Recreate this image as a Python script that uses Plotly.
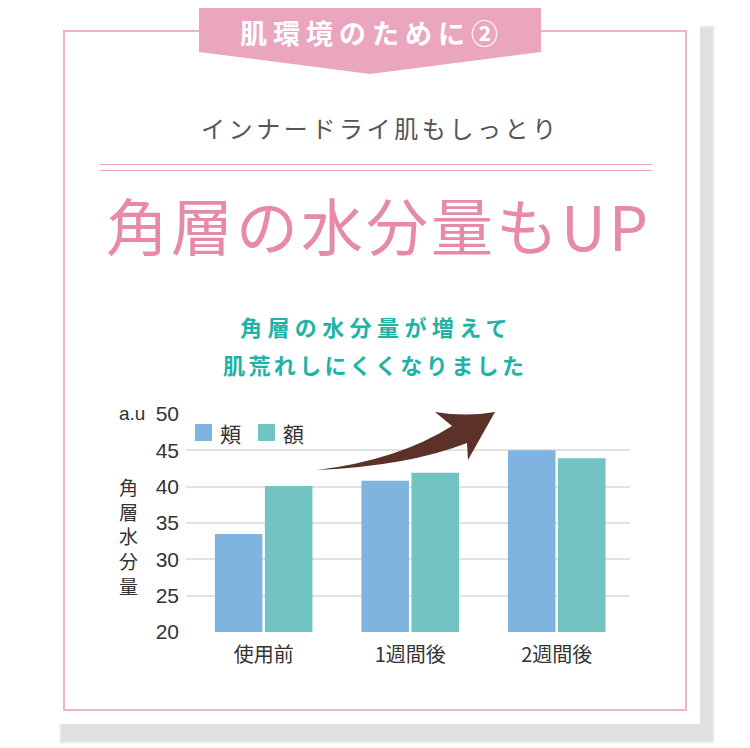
import plotly.graph_objects as go

W, H = 750, 748
OFF = 8  # page margin around the plot div

categories = ['使用前', '1週間後', '2週間後']
series_names = ['頬', '額']
cheek = [33.5, 40.8, 45.0]
forehead = [40.1, 41.9, 43.9]
y_ticks = [20, 25, 30, 35, 40, 45, 50]

blue = '#7fb4e1'
teal = '#71c4c1'
pink = '#eba6bf'
jp = 'Noto Sans CJK JP'


def px(x):
    return (x - OFF) / W


def py(y):
    return 1 - (y - OFF) / H


def pt(x, y):
    return f'{px(x):.5f},{py(y):.5f}'


def rect(x0, y0, x1, y1, **kw):
    return dict(type='rect', xref='paper', yref='paper',
                x0=px(x0), x1=px(x1), y0=py(y1), y1=py(y0), **kw)


def spaced(s, sp):
    return f'<span style="letter-spacing:{sp}px">{s}</span>'


fig = go.Figure()
fig.add_trace(go.Bar(x=categories, y=cheek, name=series_names[0],
                     marker=dict(color=blue, line_width=0), showlegend=False))
fig.add_trace(go.Bar(x=categories, y=forehead, name=series_names[1],
                     marker=dict(color=teal, line_width=0), showlegend=False))

shapes = []
# card shadow (soft)
for i, op in enumerate([0.25, 0.45, 0.7, 1.0]):
    d = 3 - i
    shapes.append(rect(62 - d, 28 - d, 712 + d, 741 + d,
                       fillcolor='#e0e0e0', opacity=op, line_width=0, layer='below'))
shapes.append(rect(30, -10, 700, 724, fillcolor='white', line_width=0, layer='below'))
# pink frame
shapes.append(rect(64, 31, 686, 710, fillcolor='rgba(0,0,0,0)',
                   line=dict(color='#efb3c9', width=2), layer='below'))
# banner
shapes.append(dict(type='path', xref='paper', yref='paper', layer='below',
                   path=f'M{pt(199,-10)} L{pt(541,-10)} L{pt(541,52)} L{pt(370,74)} L{pt(199,52)} Z',
                   fillcolor=pink, line_width=0))
# double rule
for yy in (164.5, 170.5):
    shapes.append(dict(type='line', xref='paper', yref='paper', layer='below',
                       x0=px(100), x1=px(652), y0=py(yy), y1=py(yy),
                       line=dict(color='#eea3bf', width=1.2)))
# legend squares
shapes.append(rect(195, 424, 212, 441, fillcolor=blue, line_width=0))
shapes.append(rect(258, 424, 275, 441, fillcolor=teal, line_width=0))
# arrow
shapes.append(dict(type='path', xref='paper', yref='paper', layer='above',
                   path=(f'M{pt(317,470)} Q{pt(398,460)} {pt(452,426)} L{pt(435,412)} '
                         f'Q{pt(465,417)} {pt(495,412)} L{pt(468,460)} L{pt(467,443)} '
                         f'Q{pt(408,466)} {pt(317,470)} Z'),
                   fillcolor='#5b3128', line_width=0))

ann = []
ann.append(dict(x=px(372), y=py(32), text=spaced('<b>肌環境のために②</b>', 6),
                font=dict(family=jp, size=27, color='white')))
ann.append(dict(x=px(380), y=py(128), text=spaced('インナードライ肌もしっとり', 3.6),
                font=dict(family=jp, size=24, color='#555555')))
ann.append(dict(x=px(378), y=py(224), text=spaced('角層の水分量もUP', 3),
                font=dict(family=jp, size=62, color='#e68aa6')))
ann.append(dict(x=px(376), y=py(326), text=spaced('<b>角層の水分量が増えて</b>', 5.4),
                font=dict(family=jp, size=22, color='#1fb3a8')))
ann.append(dict(x=px(375), y=py(364), text=spaced('<b>肌荒れしにくくなりました</b>', 3.4),
                font=dict(family=jp, size=22, color='#1fb3a8')))
ann.append(dict(x=px(147), y=py(414), text='a.u', xanchor='right',
                font=dict(family='Liberation Sans', size=19, color='#333333')))
ann.append(dict(x=px(140), y=py(536), text='<br>'.join('角層水分量'), xanchor='right',
                font=dict(family=jp, size=19, color='#333333')))
ann.append(dict(x=px(218), y=py(433), text=series_names[0], xanchor='left',
                font=dict(family=jp, size=21, color='#333333')))
ann.append(dict(x=px(281), y=py(433), text=series_names[1], xanchor='left',
                font=dict(family=jp, size=21, color='#333333')))
for a in ann:
    a.update(xref='paper', yref='paper', showarrow=False, yanchor='middle')

fig.update_layout(
    width=W, height=H,
    margin=dict(l=0, r=0, t=0, b=0, pad=0, autoexpand=False),
    paper_bgcolor='white', plot_bgcolor='rgba(0,0,0,0)',
    barmode='group', bargap=0.317, bargroupgap=0.05,
    shapes=shapes, annotations=ann,
    xaxis=dict(domain=[px(186), px(630)], range=[-0.53, 2.5], automargin=False,
               showgrid=False, zeroline=False, showline=False, ticks='',
               ticklabelstandoff=9,
               tickfont=dict(family=jp, size=20, color='#333333')),
    yaxis=dict(domain=[py(632), py(414)], range=[20, 50], tickvals=y_ticks,
               automargin=False, ticklabelstandoff=6,
               showgrid=True, gridcolor='#e2e2e2', gridwidth=1.5, zeroline=False,
               showline=False, ticks='',
               tickfont=dict(family='Liberation Sans', size=21, color='#333333')),
)

fig.write_html('out.html')
